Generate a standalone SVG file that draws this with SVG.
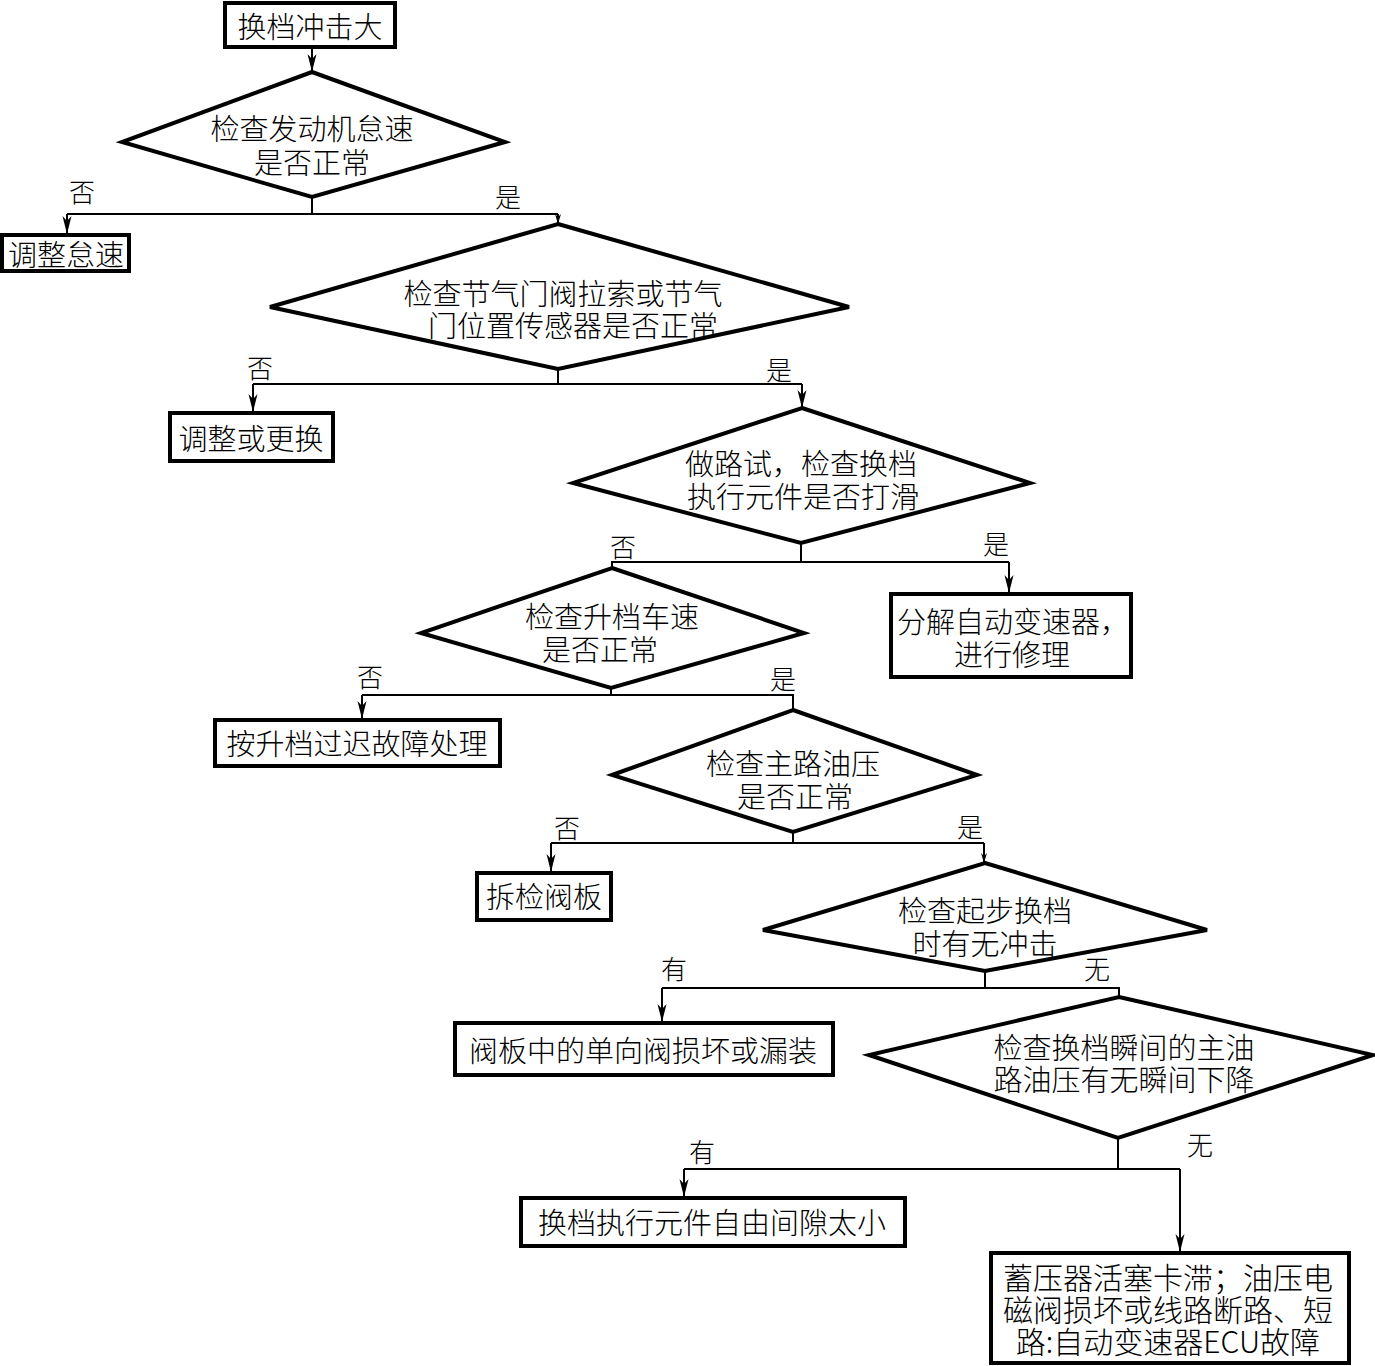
<svg xmlns="http://www.w3.org/2000/svg" width="1375" height="1366" viewBox="0 0 1375 1366">
<defs>
<marker id="arr" markerUnits="userSpaceOnUse" markerWidth="18" markerHeight="10" refX="18" refY="5" orient="auto">
<path d="M0,0.5 L18,5 L0,9.5 L5,5 z" fill="#000"/>
</marker>
<marker id="arrs" markerUnits="userSpaceOnUse" markerWidth="10" markerHeight="8" refX="10" refY="4" orient="auto">
<path d="M0,1 L10,4 L0,7 L3,4 z" fill="#000"/>
</marker>
</defs>
<style>
.box{fill:#fff;stroke:#000;stroke-width:4}
.dia{fill:#fff;stroke:#000;stroke-width:4;stroke-linejoin:miter}
.t{font-family:"Noto Sans CJK SC","Noto Sans CJK JP",sans-serif;font-size:29px;fill:#000;text-anchor:middle;dominant-baseline:central;font-weight:300}
.l{font-family:"Noto Sans CJK SC","Noto Sans CJK JP",sans-serif;font-size:26px;fill:#000;text-anchor:middle;dominant-baseline:central;font-weight:300}
.c{fill:none;stroke:#000;stroke-width:2}
</style>
<rect width="1375" height="1366" fill="#fff"/>
<g id="connectors">
<line class="c" x1="312" y1="47" x2="312" y2="72" marker-end="url(#arr)"/>
<polyline class="c" points="312,197 312,214"/>
<polyline class="c" points="67,214 558,214"/>
<line class="c" x1="67" y1="214" x2="67" y2="234" marker-end="url(#arr)"/>
<line class="c" x1="558" y1="214" x2="558" y2="224" marker-end="url(#arrs)"/>
<polyline class="c" points="558,369 558,384"/>
<polyline class="c" points="253,384 802,384"/>
<line class="c" x1="253" y1="384" x2="253" y2="412" marker-end="url(#arr)"/>
<line class="c" x1="802" y1="384" x2="802" y2="408" marker-end="url(#arr)"/>
<polyline class="c" points="801,543 801,562"/>
<polyline class="c" points="612,568 612,562 1009,562"/>
<line class="c" x1="1009" y1="562" x2="1009" y2="593" marker-end="url(#arr)"/>
<polyline class="c" points="611,688 611,695"/>
<polyline class="c" points="362,695 793,695 793,710"/>
<line class="c" x1="362" y1="695" x2="362" y2="719" marker-end="url(#arr)"/>
<polyline class="c" points="793,832 793,843"/>
<polyline class="c" points="551,843 984,843"/>
<line class="c" x1="551" y1="843" x2="551" y2="872" marker-end="url(#arr)"/>
<line class="c" x1="984" y1="843" x2="984" y2="863" marker-end="url(#arrs)"/>
<polyline class="c" points="985,971 985,988"/>
<polyline class="c" points="662,988 1119,988 1119,997"/>
<line class="c" x1="662" y1="988" x2="662" y2="1022" marker-end="url(#arr)"/>
<polyline class="c" points="1118,1138 1118,1169"/>
<polyline class="c" points="684,1169 1180,1169"/>
<line class="c" x1="684" y1="1169" x2="684" y2="1197" marker-end="url(#arr)"/>
<line class="c" x1="1180" y1="1169" x2="1180" y2="1252" marker-end="url(#arr)"/>
</g>
<g id="labels">
<text class="l" x="82" y="190">否</text>
<text class="l" x="508" y="195">是</text>
<text class="l" x="260" y="366">否</text>
<text class="l" x="779" y="368">是</text>
<text class="l" x="623" y="545">否</text>
<text class="l" x="996" y="542">是</text>
<text class="l" x="370" y="675">否</text>
<text class="l" x="783" y="677">是</text>
<text class="l" x="567" y="826">否</text>
<text class="l" x="970" y="825">是</text>
<text class="l" x="674" y="967">有</text>
<text class="l" x="1097" y="967">无</text>
<text class="l" x="702" y="1150">有</text>
<text class="l" x="1200" y="1143">无</text>
</g>
<g id="n1"><rect class="box" x="225" y="3" width="170" height="44"/><text class="t" x="310" y="25">换档冲击大</text></g>
<g id="n2"><polygon class="dia" points="312,72 505,142 312,197 122,142"/><text class="t" x="312" y="127">检查发动机怠速</text><text class="t" x="312" y="161">是否正常</text></g>
<g id="n3"><rect class="box" x="2" y="235" width="127" height="36"/><text class="t" x="66" y="253">调整怠速</text></g>
<g id="n4"><polygon class="dia" points="558,224 849,307 558,369 270,307"/><text class="t" x="563" y="292">检查节气门阀拉索或节气</text><text class="t" x="573" y="324">门位置传感器是否正常</text></g>
<g id="n5"><rect class="box" x="170" y="413" width="163" height="48"/><text class="t" x="251" y="437">调整或更换</text></g>
<g id="n6"><polygon class="dia" points="802,408 1030,483 801,543 573,483"/><text class="t" x="801" y="462">做路试，检查换档</text><text class="t" x="803" y="495">执行元件是否打滑</text></g>
<g id="n7"><rect class="box" x="891" y="594" width="240" height="83"/><text class="t" x="1013" y="620">分解自动变速器，</text><text class="t" x="1012" y="653">进行修理</text></g>
<g id="n8"><polygon class="dia" points="612,568 804,633 611,688 421,633"/><text class="t" x="612" y="615">检查升档车速</text><text class="t" x="600" y="648">是否正常</text></g>
<g id="n9"><rect class="box" x="215" y="720" width="285" height="46"/><text class="t" x="357" y="742">按升档过迟故障处理</text></g>
<g id="n10"><polygon class="dia" points="793,710 977,775 793,832 612,775"/><text class="t" x="793" y="762">检查主路油压</text><text class="t" x="795" y="795">是否正常</text></g>
<g id="n11"><rect class="box" x="477" y="873" width="134" height="47"/><text class="t" x="544" y="895">拆检阀板</text></g>
<g id="n12"><polygon class="dia" points="985,863 1207,930 985,971 763,930"/><text class="t" x="985" y="909">检查起步换档</text><text class="t" x="985" y="942">时有无冲击</text></g>
<g id="n13"><rect class="box" x="455" y="1023" width="378" height="52"/><text class="t" x="643" y="1049">阀板中的单向阀损坏或漏装</text></g>
<g id="n14"><polygon class="dia" points="1119,997 1373,1055 1118,1138 869,1055"/><text class="t" x="1124" y="1046">检查换档瞬间的主油</text><text class="t" x="1124" y="1078">路油压有无瞬间下降</text></g>
<g id="n15"><rect class="box" x="521" y="1198" width="384" height="48"/><text class="t" x="712" y="1221">换档执行元件自由间隙太小</text></g>
<g id="n16"><rect class="box" x="991" y="1253" width="358" height="110"/><text class="t" x="1168" y="1276" style="font-size:30px">蓄压器活塞卡滞；油压电</text><text class="t" x="1168" y="1308" style="font-size:30px">磁阀损坏或线路断路、短</text><text class="t" x="1168" y="1340" style="font-size:30px">路:自动变速器ECU故障</text></g>
</svg>
